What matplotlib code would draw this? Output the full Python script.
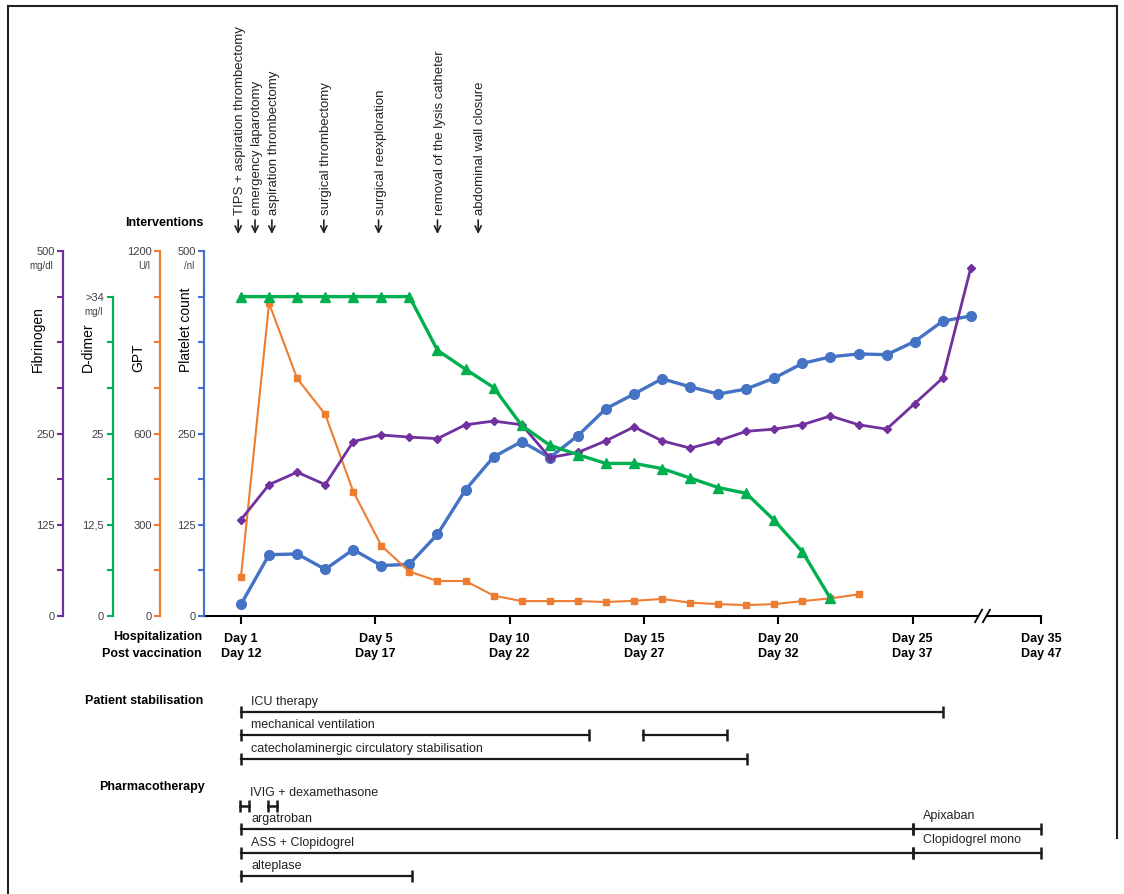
"""
Clinical course chart: four lab parameters on stacked left axes,
interventions on top, treatment timeline (Gantt-like bars) below.
"""

import numpy as np
import matplotlib.pyplot as plt
import matplotlib.transforms as mtransforms
from matplotlib.lines import Line2D

plt.rcParams.update({
    'font.family': ['Liberation Sans', 'DejaVu Sans'],
})

W, H = 1124, 894

# ---- Lab values (one measurement per column) ----
platelets = [16, 84, 85, 64, 91, 69, 71, 112, 173, 218, 239, 217, 247, 284,
             304, 325, 314, 304, 311, 326, 346, 355, 359, 358, 376, 404, 411]
fibrinogen = [132, 180, 197, 180, 239, 248, 245, 243, 262, 267, 262, 217, 224,
              240, 259, 240, 230, 240, 253, 256, 262, 274, 262, 256, 291, 326, 477]
gpt = [129, 1028, 781, 663, 409, 231, 146, 115, 115, 67, 49, 49, 49, 46, 50,
       56, 44, 39, 36, 39, 49, 58, 71]
ddimer = [43.75, 43.75, 43.75, 43.75, 43.75, 43.75, 43.75, 36.4, 33.8, 31.3,
          26.1, 23.4, 22.1, 20.9, 20.9, 20.2, 18.9, 17.6, 16.8, 13.1, 8.8, 2.4]

# ---- Time axis ----
day_ticks = [0, 4.785, 9.57, 14.355, 19.14, 23.925, 28.5]
hosp_days = ['Day 1', 'Day 5', 'Day 10', 'Day 15', 'Day 20', 'Day 25', 'Day 35']
vacc_days = ['Day 12', 'Day 17', 'Day 22', 'Day 27', 'Day 32', 'Day 37', 'Day 47']

# ---- Interventions ----
interv_x = [-0.1, 0.5, 1.1, 2.95, 4.9, 7.0, 8.45]
interv_labels = ['TIPS + aspiration thrombectomy', 'emergency laparotomy',
                 'aspiration thrombectomy', 'surgical thrombectomy',
                 'surgical reexploration', 'removal of the lysis catheter',
                 'abdominal wall closure']

# ---- Treatment timeline ----
bar_labels = ['ICU therapy', 'mechanical ventilation', '',
              'catecholaminergic circulatory stabilisation',
              'IVIG + dexamethasone', '', 'argatroban', 'Apixaban',
              'ASS + Clopidogrel', 'Clopidogrel mono', 'alteplase']
bar_rows = [0, 1, 1, 2, 4, 4, 5, 5, 6, 6, 7]
bar_start = [0, 0, 14.33, 0, -0.04, 0.96, 0, 23.93, 0, 23.93, 0]
bar_end = [25.0, 12.41, 17.3, 18.02, 0.28, 1.28, 23.93, 28.5, 23.93, 28.5, 6.08]

C_PLT = '#4472C4'
C_FIB = '#7030A0'
C_GPT = '#ED7D31'
C_DD = '#00B050'
C_TXT = '#404040'


def fx(x):
    return x / W


def fy(y):
    return 1 - y / H


fig = plt.figure(figsize=(W / 100, H / 100), dpi=100)
fig.patch.set_facecolor('white')

ax = fig.add_axes([fx(204), fy(616), (1041 - 204) / W, 365 / H])
ax.set_xlim(-1.318, 28.5)
ax_gpt = ax.twinx()
ax_fib = ax.twinx()
ax_dd = ax.twinx()


def style_axis(a, pos, color, lim, ticks, labels, top=None):
    for s in a.spines.values():
        s.set_visible(False)
    sp = a.spines['left']
    sp.set_visible(True)
    sp.set_position(('axes', pos))
    sp.set_color(color)
    sp.set_linewidth(1.6)
    if top is not None:
        sp.set_bounds(0, top)
    a.yaxis.set_ticks_position('left')
    a.yaxis.set_label_position('left')
    a.set_ylim(*lim)
    a.set_yticks(ticks)
    a.set_yticklabels(labels)
    a.tick_params(axis='y', colors=color, labelcolor=C_TXT, length=4,
                  width=1.5, labelsize=8, pad=2)


style_axis(ax, 0.0, C_PLT, (0, 500), np.arange(0, 501, 62.5),
           ['0', '', '125', '', '250', '', '', '', '500'])
style_axis(ax_gpt, -0.0526, C_GPT, (0, 1200), np.arange(0, 1201, 150),
           ['0', '', '300', '', '600', '', '', '', '1200'])
style_axis(ax_fib, -0.1685, C_FIB, (0, 500), np.arange(0, 501, 62.5),
           ['0', '', '125', '', '250', '', '', '', '500'])
style_axis(ax_dd, -0.1093, C_DD, (0, 50), np.arange(0, 43.8, 6.25),
           ['0', '', '12,5', '', '25', '', '', '>34'], top=43.75)

# units under the top tick labels
for a, pos, top, unit in [(ax, 0.0, 500, '/nl'), (ax_gpt, -0.0526, 1200, 'U/l'),
                          (ax_fib, -0.1685, 500, 'mg/dl'), (ax_dd, -0.1093, 43.75, 'mg/l')]:
    a.annotate(unit, xy=(pos, top), xycoords=('axes fraction', 'data'),
               xytext=(-7, -11), textcoords='offset points', ha='right',
               va='center', fontsize=7, color=C_TXT, annotation_clip=False)

# ---- Series ----
ax.plot(np.arange(len(platelets)), platelets, color=C_PLT, lw=2.4, marker='o',
        ms=7, zorder=3, clip_on=False)
ax_gpt.plot(np.arange(len(gpt)), gpt, color=C_GPT, lw=1.5, marker='s',
            ms=4.5, zorder=3, clip_on=False)
ax_fib.plot(np.arange(len(fibrinogen)), fibrinogen, color=C_FIB, lw=2.0,
            marker='D', ms=4.5, zorder=3, clip_on=False)
ax_dd.plot(np.arange(len(ddimer)), ddimer, color=C_DD, lw=2.4, marker='^',
           ms=6.5, zorder=3, clip_on=False)

# ---- x axis with break ----
ax.set_xticks(day_ticks)
ax.set_xticklabels([f'{a}\n{b}' for a, b in zip(hosp_days, vacc_days)],
                   fontsize=9, fontweight='bold', linespacing=1.35)
ax.tick_params(axis='x', length=6, width=1.5, color='black', pad=6)
xt = ax.get_xaxis_transform()
ax.plot([-1.318, 26.27], [0, 0], color='black', lw=1.5, transform=xt, clip_on=False)
ax.plot([26.61, 28.5], [0, 0], color='black', lw=1.5, transform=xt, clip_on=False)
ax.plot([26.15, 26.40], [-0.017, 0.017], color='black', lw=1.3, transform=xt, clip_on=False)
ax.plot([26.43, 26.68], [-0.017, 0.017], color='black', lw=1.3, transform=xt, clip_on=False)

# ---- axis titles ----
for x, t in [(38, 'Fibrinogen'), (88, 'D-dimer'), (138, 'GPT'), (186, 'Platelet count')]:
    fig.text(fx(x), fy(372), t, rotation=90, ha='center', va='bottom', fontsize=10)

fig.text(fx(202), fy(637), 'Hospitalization', ha='right', va='center',
         fontsize=9, fontweight='bold')
fig.text(fx(202), fy(654), 'Post vaccination', ha='right', va='center',
         fontsize=9, fontweight='bold')

# ---- Interventions ----
fig.text(fx(203), fy(223), 'Interventions', ha='right', va='center',
         fontsize=9, fontweight='bold')
bt = mtransforms.blended_transform_factory(ax.transData, fig.transFigure)
for x, lab in zip(interv_x, interv_labels):
    ax.annotate('', xy=(x, fy(234)), xytext=(x, fy(220)),
                xycoords=bt, textcoords=bt, annotation_clip=False,
                arrowprops=dict(arrowstyle='->,head_length=0.45,head_width=0.22',
                                lw=1.2, color='#222222', shrinkA=0, shrinkB=0))
    ax.text(x + 0.08, fy(215), lab, transform=bt, rotation=90, ha='center',
            va='bottom', fontsize=9.5, color='#222222')

# ---- Treatment timeline ----
ag = fig.add_axes([fx(204), fy(888), (1041 - 204) / W, 200 / H], sharex=ax)
ag.set_ylim(7.5, -1)
ag.axis('off')
for lab, r, s, e in zip(bar_labels, bar_rows, bar_start, bar_end):
    short = (e - s) < 1
    ag.plot([s, e], [r, r], color='#1a1a1a', lw=1.8 if short else 1.6,
            marker='|', ms=9 if short else 8, mew=1.8, clip_on=False)
    if lab:
        dy = -0.55 if (short or s > 20) else -0.42
        ag.text(s + 0.36, r + dy, lab, ha='left', va='center', fontsize=9,
                color='#222222')

fig.text(fx(203), fy(701), 'Patient stabilisation', ha='right', va='center',
         fontsize=9, fontweight='bold')
fig.text(fx(205), fy(787), 'Pharmacotherapy', ha='right', va='center',
         fontsize=9, fontweight='bold')

# ---- outer frame ----
for xs, ys in [([8, 1117], [6, 6]), ([8, 8], [6, 894]), ([1117, 1117], [6, 838])]:
    fig.add_artist(Line2D([fx(v) for v in xs], [fy(v) for v in ys],
                          transform=fig.transFigure, color='#222222', lw=1.5))

fig.savefig('out.png', dpi=100, facecolor='white')
plt.close(fig)
